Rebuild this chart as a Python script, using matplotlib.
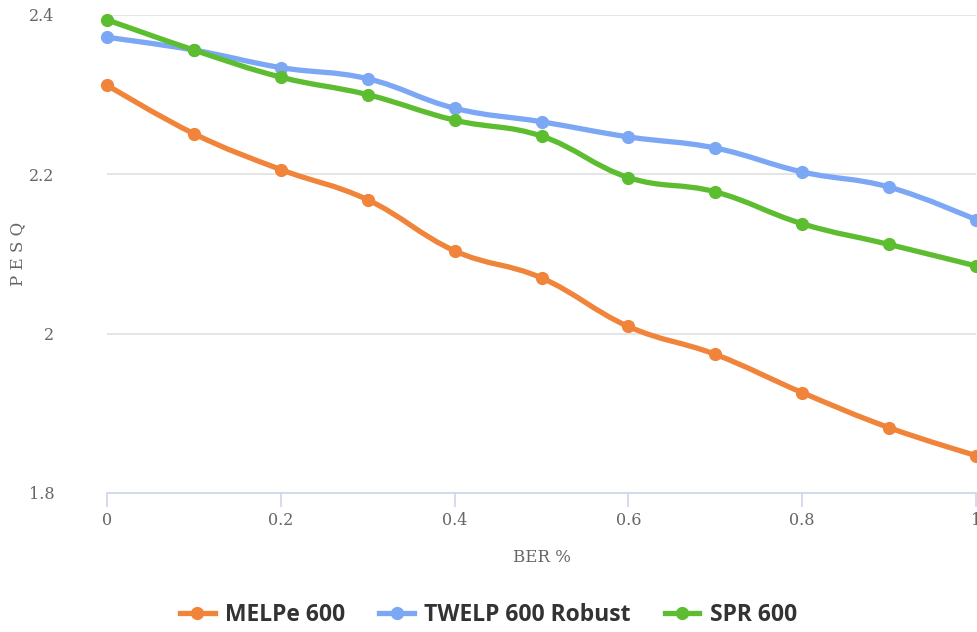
import numpy as np
import matplotlib
matplotlib.use("Agg")
import matplotlib.pyplot as plt
from matplotlib.path import Path
from matplotlib.patches import PathPatch
from matplotlib.lines import Line2D

ber = [0, 0.1, 0.2, 0.3, 0.4, 0.5, 0.6, 0.7, 0.8, 0.9, 1.0]
melpe = [2.312, 2.251, 2.206, 2.168, 2.104, 2.070, 2.009, 1.974, 1.926, 1.882, 1.847]
twelp = [2.372, 2.356, 2.334, 2.320, 2.283, 2.266, 2.247, 2.233, 2.203, 2.184, 2.143]
spr = [2.394, 2.356, 2.322, 2.300, 2.268, 2.248, 2.196, 2.178, 2.138, 2.112, 2.085]
series_names = ["MELPe 600", "TWELP 600 Robust", "SPR 600"]
colors = ["#f0843a", "#7ca7f5", "#5dbd30"]
yticks = [1.8, 2.0, 2.2, 2.4]
ytick_labels = ["1.8", "2", "2.2", "2.4"]
xticks = [0, 0.2, 0.4, 0.6, 0.8, 1.0]
xtick_labels = ["0", "0.2", "0.4", "0.6", "0.8", "1"]


def spline_path(xs, ys, smoothing=1.5):
    n = len(xs)
    verts = [(xs[0], ys[0])]
    codes = [Path.MOVETO]
    conts = []
    for i in range(n):
        if i == 0 or i == n - 1:
            conts.append(((xs[i], ys[i]), (xs[i], ys[i])))
            continue
        px, py = xs[i], ys[i]
        lx, ly = xs[i - 1], ys[i - 1]
        nx, ny = xs[i + 1], ys[i + 1]
        d = smoothing + 1
        lcx = (smoothing * px + lx) / d
        lcy = (smoothing * py + ly) / d
        rcx = (smoothing * px + nx) / d
        rcy = (smoothing * py + ny) / d
        if rcx != lcx:
            corr = ((rcy - lcy) * (rcx - px)) / (rcx - lcx) + py - rcy
            lcy += corr
            rcy += corr
        if lcy > ly and lcy > py:
            lcy = max(ly, py)
            rcy = 2 * py - lcy
        elif lcy < ly and lcy < py:
            lcy = min(ly, py)
            rcy = 2 * py - lcy
        if rcy > ny and rcy > py:
            rcy = max(ny, py)
            lcy = 2 * py - rcy
        elif rcy < ny and rcy < py:
            rcy = min(ny, py)
            lcy = 2 * py - rcy
        conts.append(((lcx, lcy), (rcx, rcy)))
    for i in range(1, n):
        verts += [conts[i - 1][1], conts[i][0], (xs[i], ys[i])]
        codes += [Path.CURVE4] * 3
    return Path(verts, codes)


fig = plt.figure(figsize=(9.77, 6.32), dpi=100)
W, H = 977, 632
ax = fig.add_axes([107 / W, 1 - 493 / H, (976 - 107) / W, (493 - 15) / H])
ax.set_xlim(0, 1)
ax.set_ylim(1.8, 2.4)

for vals, c in zip([melpe, twelp, spr], colors):
    p = spline_path(ber, vals)
    ax.add_patch(PathPatch(p, facecolor="none", edgecolor=c, lw=3.8,
                           capstyle="round", joinstyle="round", clip_on=False, zorder=3))
    ax.plot(ber, vals, "o", color=c, ms=8.5, clip_on=False, zorder=4)

for s in ["top", "right", "left"]:
    ax.spines[s].set_visible(False)
ax.spines["bottom"].set_color("#ccd6eb")
ax.spines["bottom"].set_linewidth(1.2)
ax.set_yticks(yticks)
ax.set_yticklabels(ytick_labels)
ax.set_xticks(xticks)
ax.set_xticklabels(xtick_labels)
ax.yaxis.grid(True, color="#e0e0e0", lw=1.2)
ax.set_axisbelow(True)
ax.tick_params(axis="y", length=0, pad=38, labelsize=11.5, labelcolor="#666666")
ax.tick_params(axis="x", length=10, width=1.2, color="#ccd6eb", pad=4,
               labelsize=11.5, labelcolor="#666666")
for lab in ax.get_xticklabels() + ax.get_yticklabels():
    lab.set_family("DejaVu Serif")
ax.set_xlabel("BER %", family="DejaVu Serif", fontsize=12, color="#666666", labelpad=14)
fig.text(18 / W, 1 - 254 / H, "P E S Q", rotation=90, ha="center", va="center",
         family="DejaVu Serif", fontsize=12, color="#666666")

handles = [Line2D([0], [0], color=c, lw=3.8, marker="o", ms=8.5) for c in colors]
leg = fig.legend(handles, series_names, loc="center", bbox_to_anchor=(0.5, 1 - 615 / H),
                 ncol=3, frameon=False, handlelength=1.5, handletextpad=0.45,
                 columnspacing=1.5,
                 prop={"family": "Open Sans", "weight": "bold", "size": 16.5})
for t in leg.get_texts():
    t.set_color("#333333")

fig.savefig("out.png", dpi=100)
